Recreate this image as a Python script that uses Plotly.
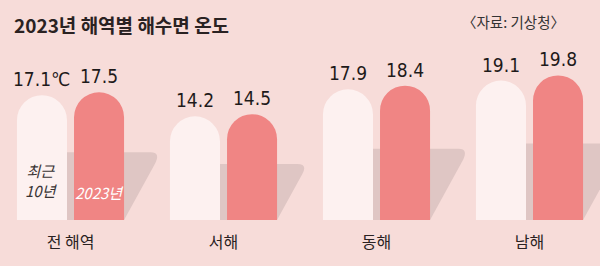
import plotly.graph_objects as go

categories = ["전 해역", "서해", "동해", "남해"]
recent10 = [17.1, 14.2, 17.9, 19.1]
y2023 = [17.5, 14.5, 18.4, 19.8]
labels10 = ["17.1℃", "14.2", "17.9", "19.1"]
labels23 = ["17.5", "14.5", "18.4", "19.8"]

BG = "#f7dcd9"
LIGHT = "#fdf1f0"
RED = "#f08584"
SHADOW = "#dfc6c4"
NUMFONT = "Liberation Sans Narrow, DejaVu Sans Condensed, Noto Sans CJK KR"
KRFONT = "Noto Sans CJK KR"

xs = list(range(len(categories)))
W = 0.327
OFF_L = -0.35
OFF_R = 0.023
PX_X = 153.0   # pixels per category unit
PX_Y = 7.3     # pixels per degree

fig = go.Figure()
fig.add_trace(go.Bar(x=xs, y=recent10, width=W, offset=OFF_L, marker_color=LIGHT,
                     marker_line_width=0, hoverinfo="skip", name="최근 10년"))
fig.add_trace(go.Bar(x=xs, y=y2023, width=W, offset=OFF_R, marker_color=RED,
                     marker_line_width=0, hoverinfo="skip", name="2023년"))

# decorative slanted shadows behind bars, derived from the data
shapes = []
for i, v in zip(xs, y2023):
    h = 0.53 * v
    shift = 0.55 * h * PX_Y / PX_X
    xl = i + OFF_L + W
    xr = i + OFF_R + W
    xt = xr + shift
    ax = xt - 0.07
    t = 0.18
    bx = xt + t * (xr - xt)
    by = h + t * (0 - h)
    path = (f"M {xl},0 L {xl},{h} L {ax},{h} Q {xt},{h} {bx},{by} L {xr},0 Z")
    shapes.append(dict(type="path", path=path, xref="x", yref="y",
                       fillcolor=SHADOW, line_width=0, layer="below"))

annotations = []
for i, v, t in zip(xs, recent10, labels10):
    annotations.append(dict(x=i + OFF_L + W / 2, y=v, xref="x", yref="y", text=t,
                            showarrow=False, yanchor="middle", yshift=16,
                            font=dict(family=NUMFONT, size=19, color="#1e1a1a")))
for i, v, t in zip(xs, y2023, labels23):
    annotations.append(dict(x=i + OFF_R + W / 2, y=v, xref="x", yref="y", text=t,
                            showarrow=False, yanchor="middle", yshift=16,
                            font=dict(family=NUMFONT, size=19, color="#1e1a1a")))

annotations.append(dict(x=0 + OFF_L + W / 2, y=0, xref="x", yref="y",
                        text="<i>최근<br>10년</i>", showarrow=False, yanchor="middle",
                        yshift=40, font=dict(family=KRFONT, size=15, color="#3a3434")))
annotations.append(dict(x=0 + OFF_R + W / 2, y=0, xref="x", yref="y",
                        text="<i>2023년</i>", showarrow=False, yanchor="middle",
                        yshift=28, font=dict(family=KRFONT, size=15, color="#ffffff")))

annotations.append(dict(x=12 / 600, y=(220 - 24) / 220, xref="paper", yref="paper",
                        text="<b>2023년 해역별 해수면 온도</b>", showarrow=False,
                        xanchor="left", yanchor="middle",
                        font=dict(family=KRFONT, size=19, color="#2a2222")))
annotations.append(dict(x=567 / 600, y=(220 - 22) / 220, xref="paper", yref="paper",
                        text="〈자료: 기상청〉", showarrow=False,
                        xanchor="right", yanchor="middle",
                        font=dict(family=KRFONT, size=14.5, color="#333333")))

fig.update_layout(
    width=600, height=266,
    margin=dict(l=0, r=0, t=0, b=46),
    paper_bgcolor=BG, plot_bgcolor=BG,
    barmode="overlay",
    barcornerradius="50%",
    showlegend=False,
    shapes=shapes,
    annotations=annotations,
    xaxis=dict(range=[-70.5 / PX_X, (600 - 70.5) / PX_X], tickvals=xs, ticktext=categories,
               showgrid=False, zeroline=False, showline=False, ticks="",
               ticklabelstandoff=11,
               tickfont=dict(family=KRFONT, size=16, color="#2a2222"),
               fixedrange=True),
    yaxis=dict(range=[0, 220 / PX_Y], visible=False, showgrid=False, zeroline=False,
               fixedrange=True),
)

fig.write_html("out.html", config={"displayModeBar": False})
